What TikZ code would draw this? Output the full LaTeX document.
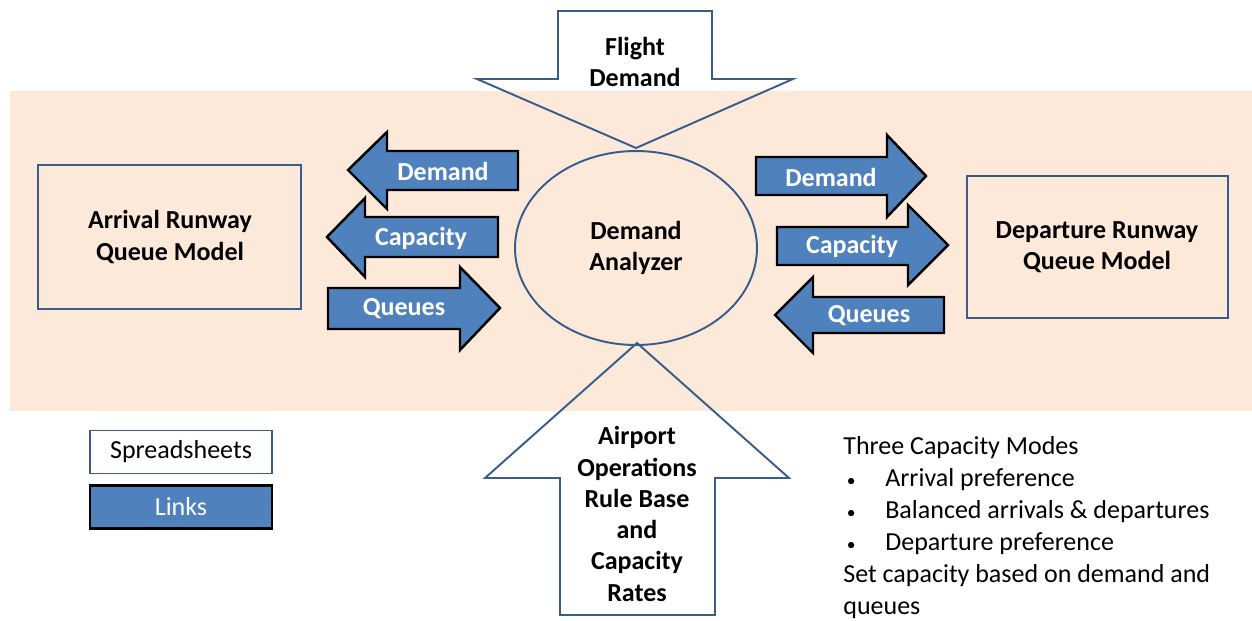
\documentclass[tikz,border=0pt]{standalone}
\usepackage{fontspec}
\setmainfont{Carlito}
\usetikzlibrary{shapes.geometric}
\definecolor{peach}{RGB}{252,233,218}
\definecolor{linkblue}{RGB}{79,129,189}
\definecolor{edgeblue}{RGB}{56,93,138}
\newcommand{\modebullet}{\makebox[0.84cm][l]{\hspace{2pt}{\fontsize{10}{10}\selectfont\textbullet}}}
\begin{document}
\begin{tikzpicture}[x=0.02cm, y=-0.02cm,
    every node/.style={font=\fontsize{14.8}{18.2}\selectfont},
    hollowarrow/.style={draw=edgeblue, line width=1.1pt, line join=miter},
    linkarrow/.style={draw=black, fill=linkblue, line width=1.4pt, line join=miter},
    modelbox/.style={draw=edgeblue, fill=peach, line width=1.1pt},
    legendbox/.style={minimum width=3.64cm, minimum height=0.86cm, inner sep=0pt},
    boldtext/.style={font=\fontsize{14.8}{17.8}\selectfont\bfseries, align=center},
    linktext/.style={boldtext, text=white}]
    \useasboundingbox (0,0) rectangle (1252,620);

    % shaded work area
    \fill[peach] (10,91) rectangle (1252,411);

    % input arrows (outline only)
    \draw[hollowarrow] (558,11) -- (712,11) -- (712,79) -- (793,79) -- (636,148)
        -- (477,79) -- (558,79) -- cycle;
    \draw[hollowarrow] (560,615) -- (715,615) -- (715,478) -- (789,478) -- (637,343)
        -- (485,478) -- (560,478) -- cycle;
    \node[boldtext] (flight) at (635,62) {Flight\\Demand};
    \node[boldtext] (ops) at (637,514) {Airport\\Operations\\Rule Base\\and\\Capacity\\Rates};

    % central analyzer
    \node[draw=edgeblue, line width=1.1pt, ellipse, minimum width=4.84cm, minimum height=3.88cm,
        inner sep=0pt, boldtext] (analyzer) at (636,248) {Demand\\Analyzer};

    % runway queue models
    \draw[modelbox] (38,165) rectangle (301,309);
    \node[boldtext] (arrmodel) at (170,237) {Arrival Runway\\Queue Model};
    \draw[modelbox] (967,176) rectangle (1228,318);
    \node[boldtext] (depmodel) at (1097,247) {Departure Runway\\Queue Model};

    % links on the arrival side
    \draw[linkarrow] (348,170) -- (387,132) -- (387,151) -- (518,151) -- (518,190)
        -- (387,190) -- (387,209) -- cycle;
    \draw[linkarrow] (327,237) -- (365,198) -- (365,217) -- (498,217) -- (498,257)
        -- (365,257) -- (365,277) -- cycle;
    \draw[linkarrow] (500,308) -- (460,267) -- (460,288) -- (328,288) -- (328,329)
        -- (460,329) -- (460,350) -- cycle;
    \node[linktext] (arrdemand) at (443,171) {Demand};
    \node[linktext] (arrcap) at (421,238) {Capacity};
    \node[linktext] (arrqueues) at (404,309) {Queues};

    % links on the departure side
    \draw[linkarrow] (926,176) -- (887,135) -- (887,157) -- (756,157) -- (756,195)
        -- (887,195) -- (887,217) -- cycle;
    \draw[linkarrow] (948,245) -- (908,205) -- (908,227) -- (777,227) -- (777,265)
        -- (908,265) -- (908,285) -- cycle;
    \draw[linkarrow] (775,315) -- (813,277) -- (813,297) -- (944,297) -- (944,333)
        -- (813,333) -- (813,353) -- cycle;
    \node[linktext] (depdemand) at (831,177) {Demand};
    \node[linktext] (depcap) at (852,246) {Capacity};
    \node[linktext] (depqueues) at (869,316) {Queues};

    % legend
    \node[legendbox, draw=edgeblue, fill=white, line width=1.1pt] (sheets) at (181,452) {Spreadsheets};
    \node[legendbox, draw=black, fill=linkblue, line width=1.4pt, text=white] (links) at (181,507) {Links};

    % capacity modes
    \node[anchor=north west, align=left, inner sep=0pt] (modes) at (843,436) {%
        Three Capacity Modes\\
        \modebullet Arrival preference\\
        \modebullet Balanced arrivals \& departures\\
        \modebullet Departure preference\\
        Set capacity based on demand and\\
        queues};
\end{tikzpicture}
\end{document}
